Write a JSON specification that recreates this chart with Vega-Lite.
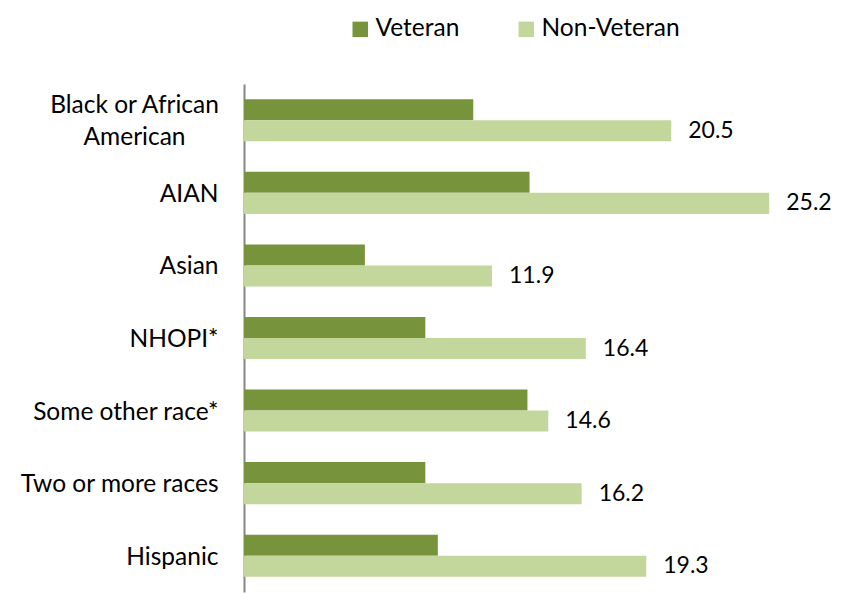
{
  "$schema": "https://vega.github.io/schema/vega-lite/v6.json",
  "autosize": {"type": "none"},
  "width": 594,
  "height": 508,
  "padding": {"left": 244, "top": 84, "right": 4, "bottom": 1},
  "background": "white",
  "config": {
    "view": {"stroke": null},
    "font": "Lato"
  },
  "data": {
    "values": [
      {"race": "Black or African American", "series": "Veteran", "value": 11.0},
      {"race": "Black or African American", "series": "Non-Veteran", "value": 20.5},
      {"race": "AIAN", "series": "Veteran", "value": 13.7},
      {"race": "AIAN", "series": "Non-Veteran", "value": 25.2},
      {"race": "Asian", "series": "Veteran", "value": 5.8},
      {"race": "Asian", "series": "Non-Veteran", "value": 11.9},
      {"race": "NHOPI*", "series": "Veteran", "value": 8.7},
      {"race": "NHOPI*", "series": "Non-Veteran", "value": 16.4},
      {"race": "Some other race*", "series": "Veteran", "value": 13.6},
      {"race": "Some other race*", "series": "Non-Veteran", "value": 14.6},
      {"race": "Two or more races", "series": "Veteran", "value": 8.7},
      {"race": "Two or more races", "series": "Non-Veteran", "value": 16.2},
      {"race": "Hispanic", "series": "Veteran", "value": 9.3},
      {"race": "Hispanic", "series": "Non-Veteran", "value": 19.3}
    ]
  },
  "encoding": {
    "y": {
      "field": "race",
      "type": "nominal",
      "sort": null,
      "scale": {"paddingInner": 0.42, "paddingOuter": 0.21},
      "axis": {
        "title": null,
        "ticks": false,
        "grid": false,
        "domainColor": "#868686",
        "domainWidth": 2,
        "labelFontSize": 24.5,
        "labelColor": "#000000",
        "labelPadding": {"condition": {"test": "datum.label == 'Black or African American'", "value": 110}, "value": 26},
        "labelAlign": {"condition": {"test": "datum.label == 'Black or African American'", "value": "center"}, "value": "right"},
        "labelOffset": {"condition": {"test": "datum.label == 'Black or African American'", "value": -14}, "value": 2},
        "labelLineHeight": 32,
        "labelLimit": 300,
        "labelExpr": "datum.label == 'Black or African American' ? ['Black or African', 'American'] : datum.label"
      }
    },
    "yOffset": {"field": "series", "type": "nominal", "sort": ["Veteran", "Non-Veteran"]},
    "x": {
      "field": "value",
      "type": "quantitative",
      "scale": {"domain": [0, 28.5], "nice": false},
      "axis": null
    }
  },
  "layer": [
    {
      "mark": {"type": "bar"},
      "encoding": {
        "color": {
          "field": "series",
          "type": "nominal",
          "sort": ["Veteran", "Non-Veteran"],
          "scale": {"domain": ["Veteran", "Non-Veteran"], "range": ["#77933C", "#C3D69B"]},
          "legend": {
            "title": null,
            "orient": "none",
            "direction": "horizontal",
            "legendX": 104,
            "legendY": -67,
            "symbolType": "square",
            "symbolSize": 240,
            "symbolStrokeWidth": 0,
            "symbolOpacity": 1,
            "labelFontSize": 24.5,
            "labelColor": "#000000",
            "labelOffset": 3,
            "columnPadding": 54
          }
        }
      }
    },
    {
      "transform": [{"filter": "datum.series == 'Non-Veteran'"}],
      "mark": {"type": "text", "align": "left", "baseline": "middle", "dx": 17, "fontSize": 23, "color": "#000000"},
      "encoding": {
        "text": {"field": "value", "type": "quantitative", "format": ".1f"}
      }
    }
  ]
}
